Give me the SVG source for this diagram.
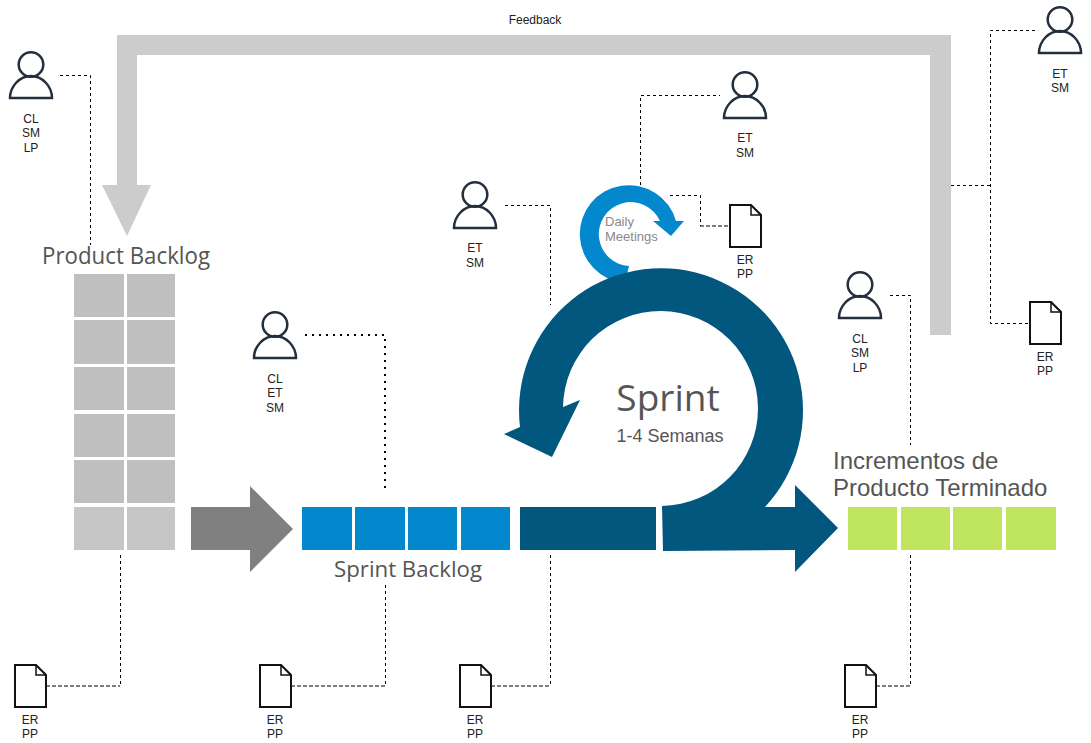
<svg xmlns="http://www.w3.org/2000/svg" width="1091" height="743" viewBox="0 0 1091 743">
<style>
.c{fill:none;stroke:#000;stroke-width:1;stroke-dasharray:3 3}
.d{fill:none;stroke:#000;stroke-width:2;stroke-dasharray:2 5}
.g{fill:none;stroke:#000;stroke-width:1;stroke-dasharray:4 2}
.l{font-family:"Liberation Sans",Arial,sans-serif;font-size:12px;fill:#222;text-anchor:middle}
.h{font-family:"Open Sans",sans-serif;fill:#555}
.i{font-family:"Liberation Sans",Arial,sans-serif;fill:#555}
.bk{fill:#bfbfbf}.bk2{fill:#c6c6c6}.bl{fill:#0488cd}.gr{fill:#bfe45e}
</style>
<defs>
<g id="person" fill="none" stroke="#232f3e" stroke-width="2.5">
<circle cx="0" cy="12.500" r="12.300"/>
<path d="M-21,46H21C21,34 11,24 0,24C-11,24 -21,34 -21,46Z"/>
</g>
<g id="doc">
<path d="M0,0H21L31,10V42H0Z" fill="#fff" stroke="#111" stroke-width="2"/>
<path d="M21,0V10H31" fill="none" stroke="#111" stroke-width="1.500"/>
</g>
</defs>

<g id="connectors">
<path class="c" d="M60,75.500H90.500V245"/>
<path class="d" d="M305,335H385V490"/>
<path class="c" d="M505,205.500H550.500V305"/>
<path class="c" d="M640.500,185V95.500H720"/>
<path class="c" d="M670,195.500H700.500V226"/>
<path class="g" d="M700,226H728"/>
<path class="c" d="M120.500,555V686"/>
<path class="g" d="M46,686H120"/>
<path class="c" d="M385.500,585V686"/>
<path class="g" d="M291,686H385"/>
<path class="c" d="M550.500,555V686"/>
<path class="g" d="M491,686H550"/>
<path class="c" d="M910.500,555V686"/>
<path class="g" d="M876,686H910"/>
<path class="c" d="M890,295.500H910.500V445"/>
<path class="c" d="M951,185.500H990.500M1035,30.500H990.500V323.500H1029"/>
</g>

<g id="feedback">
<polygon fill="#ccc" points="951,335 930,335 930,55 137,55 137,185 151,185 127,236 102,185 117,185 117,35 951,35"/>
<text class="l" x="535" y="24">Feedback</text>
</g>

<g id="product-backlog">
<text class="h" x="126" y="264" font-size="24" text-anchor="middle" textLength="168" lengthAdjust="spacingAndGlyphs">Product Backlog</text>
<rect class="bk" x="74" y="274" width="50" height="43"/><rect class="bk" x="127" y="274" width="48" height="43"/>
<rect class="bk" x="74" y="320" width="50" height="44"/><rect class="bk" x="127" y="320" width="48" height="44"/>
<rect class="bk" x="74" y="367" width="50" height="43"/><rect class="bk" x="127" y="367" width="48" height="43"/>
<rect class="bk" x="74" y="414" width="50" height="43"/><rect class="bk" x="127" y="414" width="48" height="43"/>
<rect class="bk" x="74" y="460" width="50" height="43"/><rect class="bk" x="127" y="460" width="48" height="43"/>
<rect class="bk2" x="74" y="507" width="50" height="43"/><rect class="bk2" x="127" y="507" width="48" height="43"/>
</g>

<g id="grey-arrow">
<polygon fill="#808080" points="191,507 250,507 250,486 293,529 250,572 250,550 191,550"/>
</g>

<g id="sprint-backlog">
<rect class="bl" x="302" y="507" width="50" height="43"/>
<rect class="bl" x="355" y="507" width="50" height="43"/>
<rect class="bl" x="408" y="507" width="49" height="43"/>
<rect class="bl" x="461" y="507" width="49" height="43"/>
<text class="h" x="408" y="577" font-size="22" text-anchor="middle" textLength="148" lengthAdjust="spacingAndGlyphs">Sprint Backlog</text>
</g>

<g id="daily-meetings">
<path fill="#0488cd" d="M625,283A49,49 0 1 1 676,221H684L671,236L653,221H660A32,32 0 1 0 629,266Z"/>
<text class="i" x="605" y="226" font-size="13" style="fill:#888">Daily</text>
<text class="i" x="605" y="241" font-size="13" style="fill:#888">Meetings</text>
</g>

<g id="sprint">
<rect x="520" y="507" width="136" height="43" fill="#02577f"/>
<path fill="#02577f" d="M662,506A97.500,97.500 0 1 0 563,407L580,400L552,457L504,434L520,427A142,142 0 1 1 765,507H795V485L838,528L795,572V550L663,551Z"/>
<text class="h" x="668" y="411" font-size="37" text-anchor="middle">Sprint</text>
<text class="i" x="670" y="442" font-size="18" text-anchor="middle">1-4 Semanas</text>
</g>

<g id="incrementos">
<text class="i" x="833" y="469" font-size="24">Incrementos de</text>
<text class="i" x="833" y="496" font-size="24">Producto Terminado</text>
<rect class="gr" x="848" y="507" width="49" height="43"/>
<rect class="gr" x="901" y="507" width="49" height="43"/>
<rect class="gr" x="953" y="507" width="49" height="43"/>
<rect class="gr" x="1006" y="507" width="50" height="43"/>
</g>

<g id="person-1"><use href="#person" x="31" y="52"/><text class="l" x="31" y="123">CL</text><text class="l" x="31" y="137">SM</text><text class="l" x="31" y="152">LP</text></g>
<g id="person-2"><use href="#person" x="275" y="312"/><text class="l" x="275" y="383">CL</text><text class="l" x="275" y="397">ET</text><text class="l" x="275" y="412">SM</text></g>
<g id="person-3"><use href="#person" x="475" y="182"/><text class="l" x="475" y="252">ET</text><text class="l" x="475" y="267">SM</text></g>
<g id="person-4"><use href="#person" x="745" y="72"/><text class="l" x="745" y="142">ET</text><text class="l" x="745" y="157">SM</text></g>
<g id="person-5"><use href="#person" x="1060" y="7"/><text class="l" x="1060" y="78">ET</text><text class="l" x="1060" y="92">SM</text></g>
<g id="person-6"><use href="#person" x="860" y="272"/><text class="l" x="860" y="343">CL</text><text class="l" x="860" y="357">SM</text><text class="l" x="860" y="372">LP</text></g>

<g id="doc-1"><use href="#doc" x="15" y="665"/><text class="l" x="30" y="724">ER</text><text class="l" x="30" y="738">PP</text></g>
<g id="doc-2"><use href="#doc" x="260" y="665"/><text class="l" x="275" y="724">ER</text><text class="l" x="275" y="738">PP</text></g>
<g id="doc-3"><use href="#doc" x="460" y="665"/><text class="l" x="475" y="724">ER</text><text class="l" x="475" y="738">PP</text></g>
<g id="doc-4"><use href="#doc" x="845" y="665"/><text class="l" x="860" y="724">ER</text><text class="l" x="860" y="738">PP</text></g>
<g id="doc-5"><use href="#doc" x="730" y="205"/><text class="l" x="745" y="264">ER</text><text class="l" x="745" y="278">PP</text></g>
<g id="doc-6"><use href="#doc" x="1030" y="302"/><text class="l" x="1045" y="361">ER</text><text class="l" x="1045" y="375">PP</text></g>
</svg>
